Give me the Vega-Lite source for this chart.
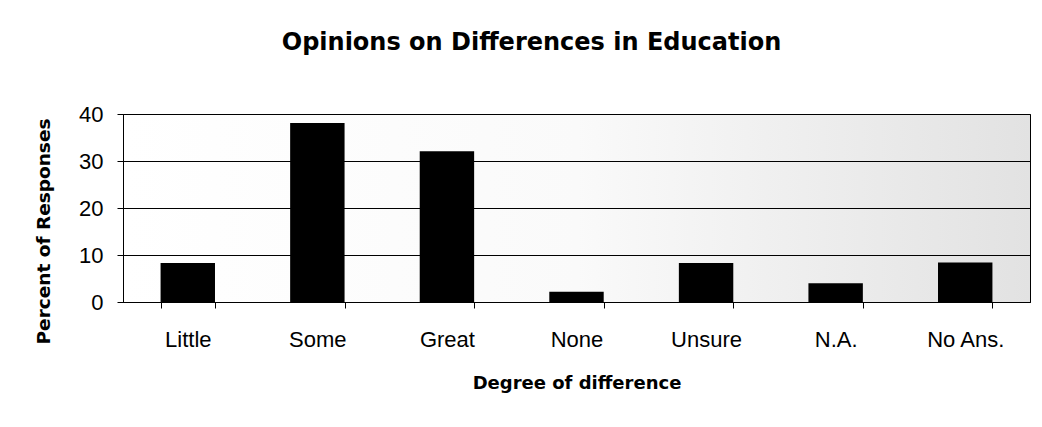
{
  "$schema": "https://vega.github.io/schema/vega-lite/v6.json",
  "width": 907,
  "height": 188,
  "autosize": {"type": "none"},
  "padding": {"left": 123, "top": 114, "right": 12, "bottom": 125},
  "background": "white",
  "config": {
    "font": "Liberation Sans",
    "view": {
      "stroke": "black",
      "strokeWidth": 1,
      "fill": {
        "gradient": "linear",
        "x1": 0, "y1": 0, "x2": 1, "y2": 0,
        "stops": [
          {"offset": 0, "color": "#ffffff"},
          {"offset": 0.5, "color": "#fafafa"},
          {"offset": 1, "color": "#e2e2e2"}
        ]
      }
    }
  },
  "title": {
    "text": "Opinions on Differences in Education",
    "font": "DejaVu Sans",
    "fontSize": 24,
    "fontWeight": "bold",
    "color": "black",
    "anchor": "middle",
    "dx": -45,
    "offset": 48
  },
  "data": {
    "values": [
      {"degree": "Little", "percent": 8.3},
      {"degree": "Some", "percent": 38.1},
      {"degree": "Great", "percent": 32.1},
      {"degree": "None", "percent": 2.2},
      {"degree": "Unsure", "percent": 8.3},
      {"degree": "N.A.", "percent": 4.0},
      {"degree": "No Ans.", "percent": 8.4}
    ]
  },
  "mark": {"type": "bar", "color": "black"},
  "encoding": {
    "x": {
      "field": "degree",
      "type": "nominal",
      "sort": null,
      "scale": {"paddingInner": 0.58, "paddingOuter": 0.29},
      "axis": {
        "title": "Degree of difference",
        "titleFont": "DejaVu Sans",
        "titleFontSize": 18,
        "titleFontWeight": "bold",
        "titleColor": "black",
        "titleY": 81,
        "titleBaseline": "middle",
        "labelAngle": 0,
        "labelFont": "Liberation Sans",
        "labelFontSize": 22,
        "labelColor": "black",
        "labelPadding": 21,
        "tickBand": "extent",
        "ticks": true,
        "tickSize": 6,
        "tickColor": "black",
        "domainColor": "black",
        "grid": false
      }
    },
    "y": {
      "field": "percent",
      "type": "quantitative",
      "scale": {"domain": [0, 40]},
      "axis": {
        "title": "Percent of Responses",
        "titleFont": "DejaVu Sans",
        "titleFontSize": 18.5,
        "titleFontWeight": "bold",
        "titleColor": "black",
        "titleX": -80,
        "titleY": 117,
        "titleAngle": -90,
        "titleAlign": "center",
        "titleBaseline": "middle",
        "values": [0, 10, 20, 30, 40],
        "labelFont": "Liberation Sans",
        "labelFontSize": 22,
        "labelColor": "black",
        "labelPadding": 14,
        "ticks": true,
        "tickSize": 6,
        "tickColor": "black",
        "domainColor": "black",
        "grid": true,
        "gridColor": "black",
        "gridOpacity": 1
      }
    }
  }
}
